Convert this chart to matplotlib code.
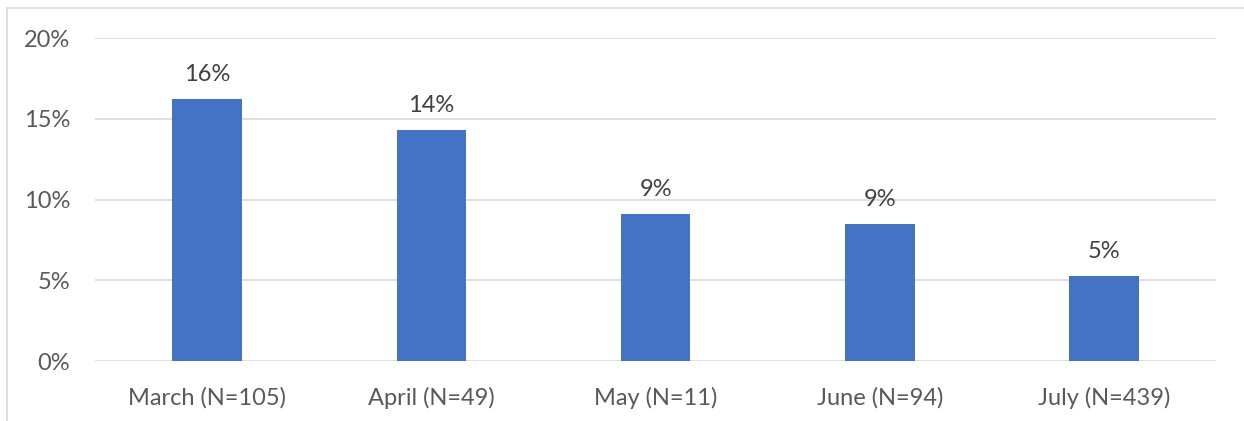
import matplotlib
matplotlib.use("Agg")
import matplotlib.pyplot as plt
from matplotlib.lines import Line2D
from matplotlib.ticker import FuncFormatter

months = ["March (N=105)", "April (N=49)", "May (N=11)", "June (N=94)", "July (N=439)"]
shares = [16.2, 14.3, 9.1, 8.5, 5.25]
labels = ["16%", "14%", "9%", "9%", "5%"]
y_ticks = [0, 5, 10, 15, 20]

BAR = "#4472C4"
TEXT = "#595959"
GRID = "#D9D9D9"

plt.rcParams["font.family"] = ["Lato", "DejaVu Sans"]

fig = plt.figure(figsize=(12.44, 4.21), dpi=100)
ax = fig.add_axes([0.0764, 0.1425, 0.9014, 0.7672])

x = range(len(months))
bars = ax.bar(x, shares, width=0.31, color=BAR, zorder=3)
for rect, lab in zip(bars, labels):
    ax.annotate(lab, (rect.get_x() + rect.get_width() / 2, rect.get_height()),
                xytext=(0, 10), textcoords="offset points",
                ha="center", va="bottom", fontsize=17, color="#404040")

ax.set_xlim(-0.5, len(months) - 0.5)
ax.set_ylim(0, 20)
ax.set_yticks(y_ticks)
ax.yaxis.set_major_formatter(FuncFormatter(lambda v, _: f"{v:.0f}%"))
ax.set_xticks(list(x))
ax.set_xticklabels(months)
ax.tick_params(axis="both", length=0, labelsize=17, labelcolor=TEXT)
ax.tick_params(axis="y", pad=18)
ax.tick_params(axis="x", pad=18.5)
ax.grid(axis="y", color=GRID, linewidth=1.2, zorder=0)
for s in ax.spines.values():
    s.set_visible(False)

# outer chart frame (left and top edges visible)
fig.add_artist(Line2D([7 / 1244, 7 / 1244], [0, 1 - 8 / 421],
                      transform=fig.transFigure, color=GRID, linewidth=1.2))
fig.add_artist(Line2D([7 / 1244, 1], [1 - 8 / 421, 1 - 8 / 421],
                      transform=fig.transFigure, color=GRID, linewidth=1.2))

fig.savefig("out.png", dpi=100)
